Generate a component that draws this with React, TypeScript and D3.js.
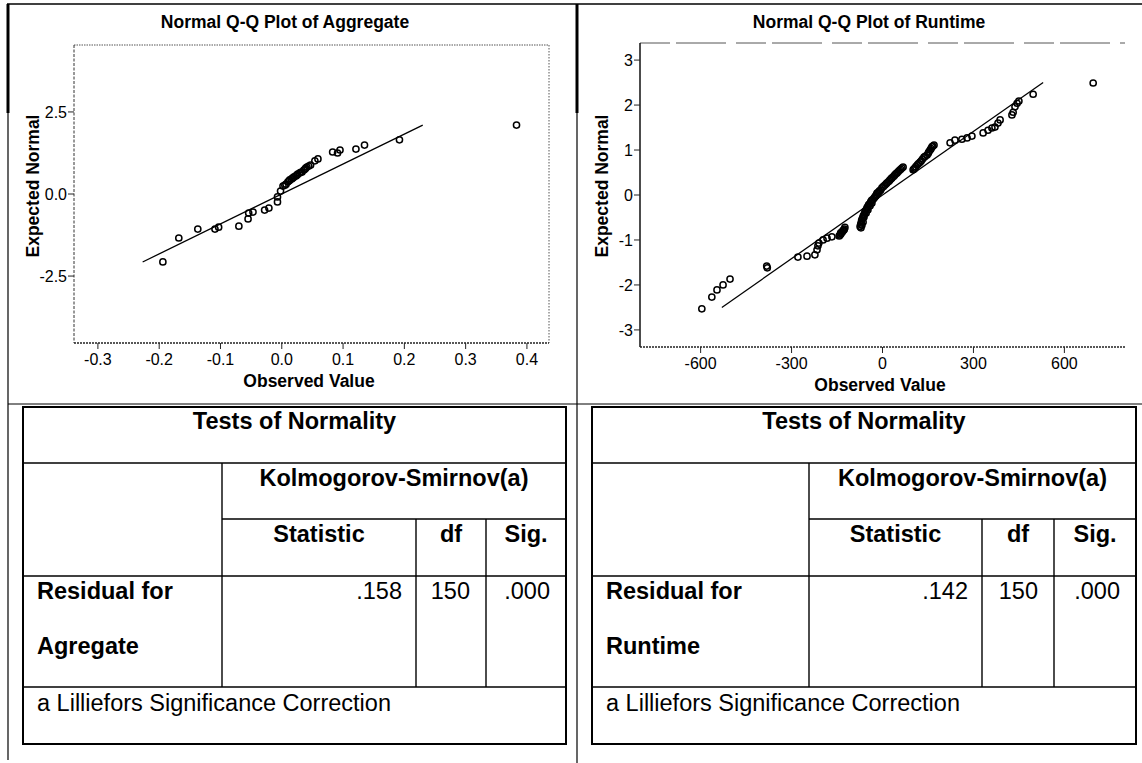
import React from 'react';
import * as d3 from 'd3';

const FONT = '"Liberation Sans", Arial, Helvetica, sans-serif';

// ---------- Aggregate Q-Q data (observed residual, expected normal) ----------
const aggObserved = [
  -0.194, -0.168, -0.137, -0.109, -0.103, -0.070, -0.055, -0.054, -0.047, -0.028,
  -0.021, -0.007, -0.007, -0.002, 0.002, 0.005, 0.007, 0.010, 0.012, 0.013, 0.016,
  0.018, 0.020, 0.023, 0.025, 0.026, 0.029, 0.031, 0.033, 0.036, 0.038, 0.039,
  0.041, 0.044, 0.047, 0.054, 0.059, 0.083, 0.091, 0.095, 0.121, 0.135, 0.192, 0.383,
];
const aggExpected = [
  -2.07, -1.34, -1.07, -1.07, -1.01, -0.98, -0.76, -0.58, -0.55, -0.49,
  -0.43, -0.24, -0.09, 0.09, 0.24, 0.27, 0.30, 0.37, 0.40, 0.43, 0.46,
  0.49, 0.52, 0.55, 0.58, 0.61, 0.64, 0.66, 0.67, 0.73, 0.76, 0.79,
  0.82, 0.85, 0.88, 1.01, 1.07, 1.28, 1.25, 1.34, 1.37, 1.49, 1.65, 2.10,
];
const aggXTicks = [-0.3, -0.2, -0.1, 0.0, 0.1, 0.2, 0.3, 0.4];
const aggYTicks = [-2.5, 0.0, 2.5];
const aggLineObserved = [-0.227, 0.23];
const aggMean = 0.0;
const aggSd = 0.1096;

// ---------- Runtime Q-Q data ----------
const rtObserved = [
  -596, -563, -546, -526, -503, -382, -380, -279, -249, -223, -216, -213, -210, -196, -183, -167,
  -143, -140, -138, -137, -134, -132, -130, -128, -126, -124,
  -74, -72, -71, -70, -69, -68, -67, -65, -64, -63, -61, -60, -58, -55, -54, -52, -50, -48, -46, -43,
  -41, -39, -36, -35, -32, -28, -25, -22, -20, -18, -15, -12, -10, -6, -2,
  3, 8, 12, 15, 20, 24, 28, 31, 36, 40, 44, 48, 52, 56, 60, 64, 68,
  101, 104, 107, 110, 115, 119, 124, 128, 132, 137, 141, 147, 151, 153, 157, 160, 163, 166, 170,
  223, 239, 262, 279, 295, 332, 348, 361, 371, 381, 388, 427, 431, 437, 444, 450, 497, 695,
];
const rtExpected = [
  -2.53, -2.27, -2.11, -2.0, -1.87, -1.58, -1.62, -1.38, -1.36, -1.33, -1.22, -1.13, -1.07, -1.0, -0.96, -0.93,
  -0.91, -0.89, -0.84, -0.86, -0.83, -0.81, -0.79, -0.78, -0.76, -0.72,
  -0.7, -0.65, -0.73, -0.62, -0.57, -0.67, -0.53, -0.5, -0.6, -0.46, -0.49, -0.43, -0.37, -0.34, -0.4, -0.3, -0.27, -0.33, -0.22, -0.2,
  -0.24, -0.15, -0.12, -0.18, -0.1, -0.07, -0.04, -0.02, 0.01, 0.04, 0.05, 0.07, 0.09, 0.11, 0.16,
  0.19, 0.22, 0.25, 0.27, 0.3, 0.33, 0.36, 0.38, 0.41, 0.44, 0.47, 0.49, 0.52, 0.55, 0.57, 0.6, 0.62,
  0.56, 0.58, 0.6, 0.63, 0.67, 0.7, 0.73, 0.76, 0.8, 0.84, 0.86, 0.89, 0.93, 0.96, 1.0, 1.03, 1.07, 1.09, 1.11,
  1.16, 1.22, 1.24, 1.27, 1.31, 1.38, 1.44, 1.49, 1.51, 1.6, 1.67, 1.78, 1.84, 1.96, 2.04, 2.09, 2.24, 2.49,
];
const rtXTicks = [-600, -300, 0, 300, 600];
const rtYTicks = [-3, -2, -1, 0, 1, 2, 3];
const rtLineObserved = [-530, 530];
const rtMean = 0;
const rtSd = 212;

// ---------- Table contents ----------
const tableTitle = 'Tests of Normality';
const testName = 'Kolmogorov-Smirnov(a)';
const colHeaders = ['Statistic', 'df', 'Sig.'];
const rowLabelsAgg = ['Residual for', 'Agregate'];
const rowLabelsRt = ['Residual for', 'Runtime'];
const statValues = ['.158', '.142'];
const dfValues = ['150', '150'];
const sigValues = ['.000', '.000'];
const footnote = 'a Lilliefors Significance Correction';

const locale = d3.formatLocale({ decimal: '.', thousands: ',', grouping: [3], currency: ['', ''], minus: '-' });
const f1 = locale.format('.1f');
const f0 = locale.format('d');

type PlotProps = {
  title: string;
  titleX: number;
  obs: number[];
  exp: number[];
  xDomain: [number, number];
  xRange: [number, number];
  yDomain: [number, number];
  yRange: [number, number];
  xTicks: number[];
  yTicks: number[];
  xFmt: (n: number) => string;
  yFmt: (n: number) => string;
  lineObs: number[];
  mean: number;
  sd: number;
  variant: 'a' | 'b';
  yTitleX: number;
  yTitleY: number;
  xTitleX: number;
};

function QQPlot(p: PlotProps) {
  const x = d3.scaleLinear().domain(p.xDomain).range(p.xRange);
  const y = d3.scaleLinear().domain(p.yDomain).range(p.yRange);
  const [xl, xr] = p.xRange;
  const [yb, yt] = p.yRange;
  const line = d3
    .line<number>()
    .x((d) => x(d))
    .y((d) => y((d - p.mean) / p.sd));
  const pts = p.obs.map((o, i) => ({ o, e: p.exp[i] }));
  const isA = p.variant === 'a';
  return (
    <g fontFamily={FONT}>
      <text x={p.titleX} y={28} textAnchor="middle" fontSize={17.5} fontWeight="bold">
        {p.title}
      </text>
      {/* frame */}
      <line x1={xl} y1={yt} x2={xr} y2={yt} stroke="#555" strokeWidth={1} strokeDasharray={isA ? '1.5,1' : '30,6,50,10'} />
      {isA && <line x1={xr} y1={yt} x2={xr} y2={yb} stroke="#555" strokeWidth={1} strokeDasharray="1.5,1.5" />}
      <line
        x1={xl}
        y1={yt}
        x2={xl}
        y2={yb}
        stroke={isA ? '#333' : '#111'}
        strokeWidth={isA ? 1 : 1.5}
        strokeDasharray={isA ? '3,1.5' : undefined}
      />
      <line x1={xl} y1={yb} x2={xr} y2={yb} stroke="#222" strokeWidth={1.3} strokeDasharray="2,1" />
      {/* y ticks */}
      {p.yTicks.map((t) => (
        <g key={'y' + t}>
          <line x1={xl - 6} x2={xl} y1={y(t)} y2={y(t)} stroke="#222" strokeWidth={1} />
          <text x={xl - 7} y={y(t)} dy="0.35em" textAnchor="end" fontSize={16}>
            {p.yFmt(t)}
          </text>
        </g>
      ))}
      {/* x ticks */}
      {p.xTicks.map((t) => (
        <g key={'x' + t}>
          <line x1={x(t)} x2={x(t)} y1={yb} y2={yb + 6} stroke="#222" strokeWidth={1} />
          <text x={x(t)} y={yb + 22} textAnchor="middle" fontSize={16}>
            {p.xFmt(t)}
          </text>
        </g>
      ))}
      <text x={p.xTitleX} y={yb + 44} textAnchor="middle" fontSize={17.5} fontWeight="bold">
        Observed Value
      </text>
      <text
        transform={`translate(${p.yTitleX},${p.yTitleY}) rotate(-90)`}
        textAnchor="middle"
        fontSize={17.5}
        fontWeight="bold"
      >
        Expected Normal
      </text>
      {/* reference line */}
      <path d={line(p.lineObs) || ''} fill="none" stroke="#000" strokeWidth={1.3} />
      {/* points */}
      {pts.map((d, i) => (
        <circle key={i} cx={x(d.o)} cy={y(d.e)} r={3.1} fill="none" stroke="#000" strokeWidth={1.5} />
      ))}
    </g>
  );
}

type TableProps = {
  cols: number[]; // left, c1, c2, c3, right
  rows: number[]; // t0..t5
  labels: string[];
  stat: string;
  df: string;
  sig: string;
};

function NormTable({ cols, rows, labels, stat, df, sig }: TableProps) {
  const [L, c1, c2, c3, R] = cols;
  const [t0, t1, t2, t3, t4, t5] = rows;
  const lw = 1.4;
  return (
    <g fontFamily={FONT} fill="#000">
      <rect x={L} y={t0} width={R - L} height={t5 - t0} fill="none" stroke="#000" strokeWidth={2} />
      <line x1={L} x2={R} y1={t1} y2={t1} stroke="#000" strokeWidth={lw} />
      <line x1={c1} x2={R} y1={t2} y2={t2} stroke="#000" strokeWidth={lw} />
      <line x1={L} x2={R} y1={t3} y2={t3} stroke="#000" strokeWidth={lw} />
      <line x1={L} x2={R} y1={t4} y2={t4} stroke="#000" strokeWidth={lw} />
      <line x1={c1} x2={c1} y1={t1} y2={t4} stroke="#000" strokeWidth={lw} />
      <line x1={c2} x2={c2} y1={t2} y2={t4} stroke="#000" strokeWidth={lw} />
      <line x1={c3} x2={c3} y1={t2} y2={t4} stroke="#000" strokeWidth={lw} />
      <text x={(L + R) / 2} y={t0 + 22} textAnchor="middle" fontSize={23.5} fontWeight="bold">
        {tableTitle}
      </text>
      <text x={(c1 + R) / 2} y={t1 + 23} textAnchor="middle" fontSize={23.5} fontWeight="bold">
        {testName}
      </text>
      {[
        [c1, c2],
        [c2, c3],
        [c3, R],
      ].map(([a, b], i) => (
        <text key={i} x={(a + b) / 2} y={t2 + 23} textAnchor="middle" fontSize={23.5} fontWeight="bold">
          {colHeaders[i]}
        </text>
      ))}
      <text x={L + 14} y={t3 + 23} fontSize={23.5} fontWeight="bold">
        {labels[0]}
      </text>
      <text x={L + 14} y={t3 + 78} fontSize={23.5} fontWeight="bold">
        {labels[1]}
      </text>
      <text x={c2 - 14} y={t3 + 23} textAnchor="end" fontSize={23.5}>
        {stat}
      </text>
      <text x={c3 - 16} y={t3 + 23} textAnchor="end" fontSize={23.5}>
        {df}
      </text>
      <text x={R - 16} y={t3 + 23} textAnchor="end" fontSize={23.5}>
        {sig}
      </text>
      <text x={L + 14} y={t4 + 24} fontSize={23.5}>
        {footnote}
      </text>
    </g>
  );
}

export default function App() {
  const tableRows = [407, 463, 519, 576, 687, 744];
  return (
    <svg
      width={1142}
      height={763}
      viewBox="0 0 1142 763"
      style={{ position: 'absolute', left: 0, top: 0, background: '#fff' }}
    >
      <rect x={0} y={0} width={1142} height={763} fill="#fff" />
      {/* panel borders */}
      <line x1={7} x2={1142} y1={4} y2={4} stroke="#000" strokeWidth={1.6} />
      <line x1={8} x2={8} y1={4} y2={113} stroke="#000" strokeWidth={3} />
      <line x1={8} x2={8} y1={113} y2={760} stroke="#000" strokeWidth={1.2} />
      <line x1={577} x2={577} y1={4} y2={113} stroke="#000" strokeWidth={3} />
      <line x1={577} x2={577} y1={113} y2={763} stroke="#000" strokeWidth={1.2} />
      <line x1={8} x2={1142} y1={404} y2={404} stroke="#000" strokeWidth={1} />

      <QQPlot
        title="Normal Q-Q Plot of Aggregate"
        titleX={285}
        obs={aggObserved}
        exp={aggExpected}
        xDomain={[-0.339, 0.436]}
        xRange={[74, 549]}
        yDomain={[-4.54, 4.54]}
        yRange={[343, 45]}
        xTicks={aggXTicks}
        yTicks={aggYTicks}
        xFmt={f1}
        yFmt={f1}
        lineObs={aggLineObserved}
        mean={aggMean}
        sd={aggSd}
        variant="a"
        yTitleX={39}
        yTitleY={186}
        xTitleX={309}
      />
      <QQPlot
        title="Normal Q-Q Plot of Runtime"
        titleX={869}
        obs={rtObserved}
        exp={rtExpected}
        xDomain={[-800, 800]}
        xRange={[640, 1125]}
        yDomain={[-3.38, 3.38]}
        yRange={[347, 43]}
        xTicks={rtXTicks}
        yTicks={rtYTicks}
        xFmt={f0}
        yFmt={f0}
        lineObs={rtLineObserved}
        mean={rtMean}
        sd={rtSd}
        variant="b"
        yTitleX={608}
        yTitleY={186}
        xTitleX={880}
      />

      <NormTable
        cols={[23, 222, 416, 486, 566]}
        rows={tableRows}
        labels={rowLabelsAgg}
        stat={statValues[0]}
        df={dfValues[0]}
        sig={sigValues[0]}
      />
      <NormTable
        cols={[592, 809, 982, 1054, 1136]}
        rows={tableRows}
        labels={rowLabelsRt}
        stat={statValues[1]}
        df={dfValues[1]}
        sig={sigValues[1]}
      />
    </svg>
  );
}
